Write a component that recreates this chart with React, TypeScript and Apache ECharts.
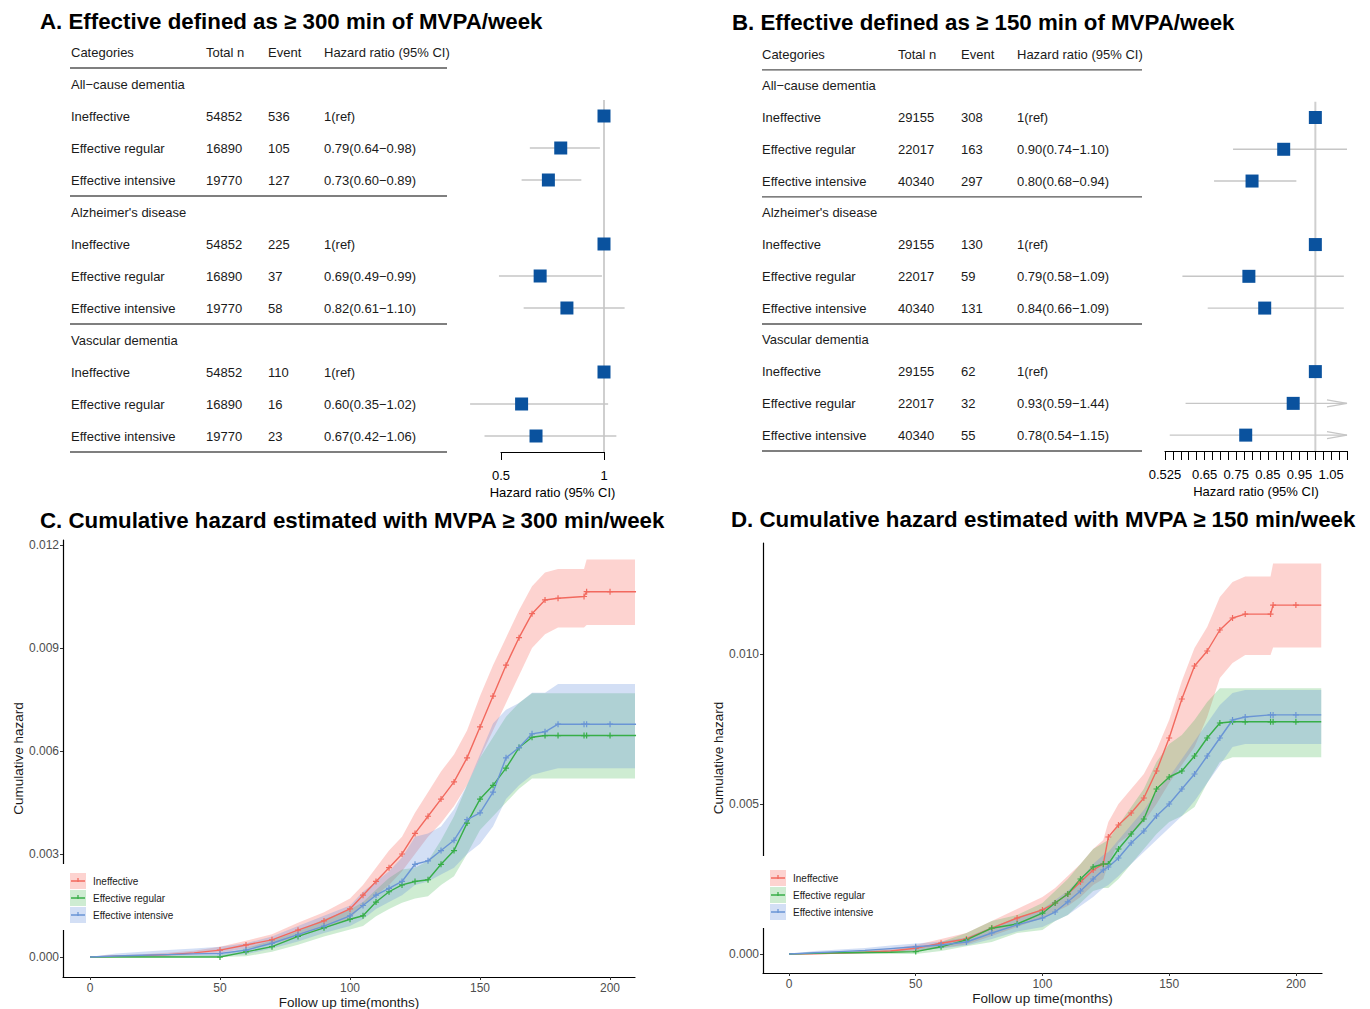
import React, { useEffect, useRef } from "react";
import * as echarts from "echarts";

const FONT = '"Liberation Sans", Arial, sans-serif';

// ---------------- Forest plot tables ----------------
const HEADERS = ["Categories", "Total n", "Event", "Hazard ratio (95% CI)"];
const OUTCOMES = ["All\u2212cause dementia", "Alzheimer's disease", "Vascular dementia"];
const GROUPS = ["Ineffective", "Effective regular", "Effective intensive"];

const A_TOTAL = [54852, 16890, 19770];
const A_EVENTS = [[536, 105, 127], [225, 37, 58], [110, 16, 23]];
const A_HR = [[1, 0.79, 0.73], [1, 0.69, 0.82], [1, 0.6, 0.67]];
const A_LO = [[1, 0.64, 0.6], [1, 0.49, 0.61], [1, 0.35, 0.42]];
const A_HI = [[1, 0.98, 0.89], [1, 0.99, 1.1], [1, 1.02, 1.06]];

const B_TOTAL = [29155, 22017, 40340];
const B_EVENTS = [[308, 163, 297], [130, 59, 131], [62, 32, 55]];
const B_HR = [[1, 0.9, 0.8], [1, 0.79, 0.84], [1, 0.93, 0.78]];
const B_LO = [[1, 0.74, 0.68], [1, 0.58, 0.66], [1, 0.59, 0.54]];
const B_HI = [[1, 1.1, 0.94], [1, 1.09, 1.09], [1, 1.44, 1.15]];

const A_TICKS = [0.5, 1];
const B_TICK_LABELS = [0.525, 0.65, 0.75, 0.85, 0.95, 1.05];
const B_TICKS = [0.525, 0.55, 0.575, 0.6, 0.625, 0.65, 0.675, 0.7, 0.725, 0.75, 0.775, 0.8, 0.825, 0.85, 0.875, 0.9, 0.925, 0.95, 0.975, 1.0, 1.025, 1.05, 1.075, 1.1];

// ---------------- Cumulative hazard curves ----------------
const C_T = [0, 10, 20, 30, 40, 50, 60, 70, 80, 90, 100, 105, 110, 115, 120, 125, 130, 135, 140, 145, 150, 155, 160, 165, 170, 175, 180, 190, 191, 200, 210];
const C_RED = [0, 0.00002, 0.00004, 0.00007, 0.00012, 0.0002, 0.00035, 0.0005, 0.00078, 0.00105, 0.0014, 0.0018, 0.0022, 0.0026, 0.003, 0.0036, 0.0041, 0.0046, 0.0051, 0.0058, 0.0067, 0.0076, 0.0085, 0.0093, 0.01, 0.0104, 0.01045, 0.0105, 0.01064, 0.01064, 0.01064];
const C_RED_HI = [0, 0.00005, 0.00008, 0.00012, 0.00018, 0.0003, 0.00047, 0.00066, 0.001, 0.0013, 0.0017, 0.0021, 0.0026, 0.0031, 0.0035, 0.0042, 0.0048, 0.0054, 0.0059, 0.0066, 0.0076, 0.0085, 0.0093, 0.0101, 0.0108, 0.0112, 0.0113, 0.0113, 0.01158, 0.01158, 0.01158];
const C_RED_LO = [0, 0, 0.00001, 0.00003, 0.00007, 0.00012, 0.00025, 0.00037, 0.0006, 0.00085, 0.00113, 0.0015, 0.0018, 0.0021, 0.0025, 0.003, 0.0035, 0.0039, 0.0044, 0.005, 0.0058, 0.0066, 0.0074, 0.0082, 0.009, 0.0094, 0.0096, 0.0096, 0.00967, 0.00967, 0.00967];
const C_GRN = [0, 0, 0, 0, 0, 0, 0.00015, 0.0003, 0.0006, 0.00085, 0.0011, 0.0012, 0.0016, 0.0019, 0.0021, 0.0022, 0.00225, 0.0027, 0.0031, 0.0039, 0.0046, 0.005, 0.0055, 0.0061, 0.0064, 0.00645, 0.00645, 0.00645, 0.00645, 0.00645, 0.00645];
const C_GRN_HI = [0, 0.00002, 0.00003, 0.00004, 0.00005, 0.00006, 0.00026, 0.00048, 0.00075, 0.0011, 0.00138, 0.0016, 0.00196, 0.0023, 0.00255, 0.0026, 0.0028, 0.0034, 0.0041, 0.005, 0.0058, 0.0064, 0.007, 0.0074, 0.00768, 0.00768, 0.00768, 0.00768, 0.00768, 0.00768, 0.00768];
const C_GRN_LO = [0, 0, 0, 0, 0, 0, 0.00002, 0.00015, 0.00036, 0.0006, 0.0008, 0.0009, 0.00119, 0.0014, 0.00158, 0.0017, 0.00177, 0.0021, 0.00235, 0.003, 0.0037, 0.0041, 0.0045, 0.0049, 0.0052, 0.0052, 0.0052, 0.0052, 0.0052, 0.0052, 0.0052];
const C_BLU = [0, 0.00003, 0.00005, 0.00007, 0.00009, 0.0001, 0.0002, 0.0004, 0.00065, 0.0009, 0.0012, 0.0015, 0.0018, 0.002, 0.0022, 0.0027, 0.0028, 0.0031, 0.0034, 0.004, 0.0042, 0.0048, 0.0058, 0.0061, 0.0065, 0.00656, 0.00678, 0.00678, 0.00678, 0.00678, 0.00678];
const C_BLU_HI = [0, 0.0001, 0.00015, 0.0002, 0.00025, 0.0003, 0.0004, 0.0006, 0.0009, 0.0012, 0.0015, 0.0019, 0.0022, 0.0025, 0.0029, 0.0035, 0.0036, 0.0038, 0.0043, 0.005, 0.0059, 0.0068, 0.0072, 0.0074, 0.0077, 0.0077, 0.00795, 0.00795, 0.00795, 0.00795, 0.00795];
const C_BLU_LO = [0, 0, 0, 0, 0.00002, 0.00003, 0.00008, 0.00025, 0.00045, 0.0007, 0.0009, 0.0011, 0.0014, 0.0016, 0.0018, 0.0021, 0.0022, 0.0024, 0.0026, 0.003, 0.0033, 0.0038, 0.0046, 0.005, 0.0053, 0.0054, 0.0055, 0.0055, 0.0055, 0.0055, 0.0055];

const D_T = [0, 10, 20, 30, 40, 50, 60, 70, 80, 90, 100, 105, 110, 115, 120, 124, 126, 130, 135, 140, 145, 150, 155, 160, 165, 170, 175, 180, 190, 191, 200, 210];
const D_RED = [0, 0.00001, 0.00003, 0.00006, 0.0001, 0.00019, 0.00036, 0.0005, 0.00086, 0.0012, 0.00147, 0.0017, 0.002, 0.0024, 0.0028, 0.003, 0.0039, 0.0043, 0.0047, 0.0052, 0.0061, 0.0072, 0.0085, 0.0096, 0.0101, 0.0108, 0.0112, 0.01133, 0.01133, 0.01163, 0.01163, 0.01163];
const D_RED_HI = [0, 0.00004, 0.00008, 0.00012, 0.00018, 0.0003, 0.0005, 0.0007, 0.0011, 0.0015, 0.0019, 0.0022, 0.0026, 0.003, 0.0035, 0.0038, 0.0044, 0.005, 0.0055, 0.006, 0.0068, 0.0078, 0.0091, 0.0102, 0.0109, 0.0119, 0.0124, 0.01258, 0.01258, 0.01302, 0.01302, 0.01302];
const D_RED_LO = [0, 0, 0.00001, 0.00002, 0.00005, 0.0001, 0.0002, 0.00032, 0.0006, 0.0009, 0.0012, 0.0014, 0.0016, 0.0019, 0.0023, 0.0025, 0.003, 0.0037, 0.004, 0.0044, 0.005, 0.0057, 0.0063, 0.0069, 0.0079, 0.0092, 0.0097, 0.00997, 0.00997, 0.01022, 0.01022, 0.01022];
const D_GRN = [0, 0.00002, 0.00004, 0.00005, 0.00006, 0.00008, 0.00024, 0.00047, 0.00086, 0.001, 0.00136, 0.0017, 0.002, 0.0025, 0.0029, 0.003, 0.003, 0.0035, 0.004, 0.0045, 0.0055, 0.0059, 0.0061, 0.0066, 0.0072, 0.0077, 0.00774, 0.00774, 0.00774, 0.00774, 0.00774, 0.00774];
const D_GRN_HI = [0, 0.00005, 0.00008, 0.0001, 0.00012, 0.00015, 0.0004, 0.0007, 0.0011, 0.0013, 0.0017, 0.0021, 0.0025, 0.003, 0.0035, 0.0037, 0.0038, 0.0043, 0.0049, 0.0055, 0.0064, 0.007, 0.0073, 0.0078, 0.0084, 0.00886, 0.00886, 0.00886, 0.00886, 0.00886, 0.00886, 0.00886];
const D_GRN_LO = [0, 0, 0, 0, 0, 0, 0.0001, 0.00026, 0.0004, 0.0007, 0.0008, 0.0011, 0.0013, 0.0017, 0.0021, 0.0022, 0.0022, 0.0025, 0.003, 0.0035, 0.004, 0.0044, 0.0046, 0.0049, 0.0057, 0.0064, 0.00656, 0.00656, 0.00656, 0.00656, 0.00656, 0.00656];
const D_BLU = [0, 0.00004, 0.00008, 0.00012, 0.00018, 0.00024, 0.0003, 0.0004, 0.0007, 0.00097, 0.0012, 0.0014, 0.00174, 0.0021, 0.0025, 0.0028, 0.0029, 0.0032, 0.0037, 0.0041, 0.0046, 0.005, 0.0055, 0.006, 0.0066, 0.0072, 0.0078, 0.0079, 0.00797, 0.00797, 0.00797, 0.00797];
const D_BLU_HI = [0, 0.0001, 0.00015, 0.0002, 0.00028, 0.00035, 0.00042, 0.00055, 0.0009, 0.0012, 0.0015, 0.0018, 0.0021, 0.0025, 0.003, 0.0033, 0.0034, 0.0038, 0.0043, 0.0048, 0.0054, 0.0059, 0.0065, 0.0071, 0.0077, 0.0083, 0.0087, 0.0088, 0.0088, 0.0088, 0.0088, 0.0088];
const D_BLU_LO = [0, 0, 0.00001, 0.00003, 0.00008, 0.00012, 0.00018, 0.00028, 0.0005, 0.00075, 0.0009, 0.0011, 0.0013, 0.0016, 0.0019, 0.0022, 0.0023, 0.0026, 0.003, 0.0034, 0.0038, 0.0042, 0.0046, 0.0051, 0.0057, 0.0063, 0.0069, 0.007, 0.007, 0.007, 0.007, 0.007];

const C_YTICKS = [0, 0.003, 0.006, 0.009, 0.012];
const D_YTICKS = [0, 0.005, 0.01];
const KM_XTICKS = [0, 50, 100, 150, 200];

const TITLES = [
  "A. Effective defined as \u2265 300 min of MVPA/week",
  "B. Effective defined as \u2265 150 min of MVPA/week",
  "C. Cumulative hazard estimated with MVPA \u2265 300 min/week",
  "D. Cumulative hazard estimated with MVPA \u2265 150 min/week",
];

// ---------------- styles ----------------
const KM_COLORS = ["#F2695E", "#37AE47", "#6A95D5"];
const KM_FILLS = ["rgba(248,118,109,0.32)", "rgba(60,180,75,0.25)", "rgba(97,140,220,0.28)"];
const SQUARE = "#0A529E";
const CI_GREY = "#c6c6c6";
const PLUS = "path://M2,0h1v2h2v1h-2v2h-1v-2h-2v-1h2z";

function fmtCI(hr: number, lo: number, hi: number) {
  if (hr === 1 && lo === 1 && hi === 1) return "1(ref)";
  return `${hr.toFixed(2)}(${lo.toFixed(2)}\u2212${hi.toFixed(2)})`;
}

function buildTable(total: number[], events: number[][], hr: number[][], lo: number[][], hi: number[][]) {
  const rows: { row: number; cells: string[] }[] = [{ row: 0, cells: HEADERS }];
  const forest: number[][] = [];
  const rules: number[] = [0.5];
  let r = 1;
  OUTCOMES.forEach((o, oi) => {
    rows.push({ row: r, cells: [o] });
    r++;
    GROUPS.forEach((g, gi) => {
      rows.push({
        row: r,
        cells: [g, String(total[gi]), String(events[oi][gi]), fmtCI(hr[oi][gi], lo[oi][gi], hi[oi][gi])],
      });
      forest.push([hr[oi][gi], r, lo[oi][gi], hi[oi][gi]]);
      r++;
    });
    rules.push(r - 0.5);
  });
  return { rows, forest, rules };
}

function tableSeries(ax: number, xref: number, t: ReturnType<typeof buildTable>, colX: number[], lineX: [number, number]) {
  return [
    {
      type: "custom",
      xAxisIndex: ax,
      yAxisIndex: ax,
      clip: false,
      silent: true,
      z: 5,
      data: t.rows.map((r) => [xref, r.row]),
      renderItem: (params: any, api: any) => {
        const y = api.coord([xref, api.value(1)])[1];
        const cells = t.rows[params.dataIndex].cells;
        return {
          type: "group",
          children: cells.map((c, i) => ({
            type: "text",
            x: colX[i],
            y,
            style: { text: c, fill: "#1a1a1a", fontSize: 13, fontFamily: FONT, verticalAlign: "middle", align: "left" },
          })),
        };
      },
    },
    {
      type: "custom",
      xAxisIndex: ax,
      yAxisIndex: ax,
      clip: false,
      silent: true,
      z: 5,
      data: t.rules.map((r) => [xref, r]),
      renderItem: (params: any, api: any) => {
        const y = api.coord([xref, api.value(1)])[1];
        return {
          type: "line",
          shape: { x1: lineX[0], y1: y, x2: lineX[1], y2: y },
          style: { stroke: "#555", lineWidth: 1.4 },
        };
      },
    },
  ];
}

function forestSeries(ax: number, t: ReturnType<typeof buildTable>, lim: [number, number]) {
  return [
    {
      type: "line",
      xAxisIndex: ax,
      yAxisIndex: ax,
      data: [[1, 1.5], [1, 12.5]],
      symbol: "none",
      silent: true,
      z: 3,
      lineStyle: { color: "#cfcfcf", width: 2 },
    },
    {
      type: "custom",
      xAxisIndex: ax,
      yAxisIndex: ax,
      clip: false,
      silent: true,
      z: 6,
      data: t.forest,
      renderItem: (params: any, api: any) => {
        const hr = api.value(0);
        const r = api.value(1);
        const lo = api.value(2);
        const hi = api.value(3);
        const c = api.coord([hr, r]);
        const children: any[] = [];
        if (hi > lo) {
          const p0 = api.coord([Math.max(lo, lim[0]), r]);
          const p1 = api.coord([Math.min(hi, lim[1]), r]);
          children.push({
            type: "line",
            shape: { x1: p0[0], y1: p0[1], x2: p1[0], y2: p1[1] },
            style: { stroke: CI_GREY, lineWidth: 1.4 },
          });
          if (hi > lim[1]) {
            children.push({
              type: "polyline",
              shape: { points: [[p1[0] - 20, p1[1] - 3.5], [p1[0], p1[1]], [p1[0] - 20, p1[1] + 3.5]] },
              style: { stroke: CI_GREY, lineWidth: 1.2, fill: "none" },
            });
          }
        }
        children.push({
          type: "rect",
          shape: { x: c[0] - 6.5, y: c[1] - 6.5, width: 13, height: 13 },
          style: { fill: SQUARE },
        });
        return { type: "group", children };
      },
    },
  ];
}

function kmSeries(ax: number, t: number[], groups: { est: number[]; lo: number[]; hi: number[] }[]) {
  const out: any[] = [];
  groups.forEach((g, k) => {
    out.push({
      type: "custom",
      xAxisIndex: ax,
      yAxisIndex: ax,
      silent: true,
      clip: true,
      z: 2,
      data: t.map((x, i) => [x, g.lo[i], g.hi[i]]),
      renderItem: (params: any, api: any) => {
        if (params.dataIndex !== 0) return null;
        const pts: number[][] = [];
        for (let i = 0; i < t.length; i++) pts.push(api.coord([t[i], g.hi[i]]));
        for (let i = t.length - 1; i >= 0; i--) pts.push(api.coord([t[i], g.lo[i]]));
        return { type: "polygon", shape: { points: pts }, style: { fill: KM_FILLS[k] } };
      },
    });
  });
  groups.forEach((g, k) => {
    out.push({
      type: "line",
      xAxisIndex: ax,
      yAxisIndex: ax,
      silent: true,
      z: 4,
      symbol: PLUS,
      showAllSymbol: true,
      symbolSize: (v: number[]) => (v[0] >= 45 && v[0] < 205 ? 6 : 0),
      itemStyle: { color: KM_COLORS[k] },
      lineStyle: { color: KM_COLORS[k], width: 1.4 },
      data: t.map((x, i) => [x, g.est[i]]),
    });
  });
  return out;
}

function kmAxes(ax: number, xmin: number, xmax: number, ymin: number, ymax: number, yticks: number[]) {
  const x = {
    type: "value",
    gridIndex: ax,
    min: xmin,
    max: xmax,
    splitLine: { show: false },
    axisLine: { onZero: false, lineStyle: { color: "#000", width: 1.2 } },
    axisTick: { length: 3, lineStyle: { color: "#333" }, customValues: KM_XTICKS },
    axisLabel: { customValues: KM_XTICKS, color: "#4d4d4d", fontSize: 12, fontFamily: FONT, margin: 5 },
    name: "Follow up time(months)",
    nameLocation: "middle",
    nameGap: 18,
    nameTextStyle: { color: "#1a1a1a", fontSize: 13.5, fontFamily: FONT },
  };
  const y = {
    type: "value",
    gridIndex: ax,
    min: ymin,
    max: ymax,
    splitLine: { show: false },
    axisLine: { show: true, onZero: false, lineStyle: { color: "#000", width: 1.2 } },
    axisTick: { show: true, length: 3, lineStyle: { color: "#333" }, customValues: yticks },
    axisLabel: {
      customValues: yticks,
      color: "#4d4d4d",
      fontSize: 12,
      fontFamily: FONT,
      margin: 4,
      formatter: (v: number) => v.toFixed(3),
    },
    name: "Cumulative hazard",
    nameLocation: "middle",
    nameGap: 38,
    nameTextStyle: { color: "#1a1a1a", fontSize: 13.5, fontFamily: FONT },
  };
  return { x, y };
}

function legendGraphic(x0: number, y0: number, cover: { x: number; y: number; width: number; height: number }) {
  const els: any[] = [{ type: "rect", shape: cover, style: { fill: "#fff" }, z: 90, silent: true }];
  GROUPS.forEach((g, k) => {
    const cy = y0 + k * 17;
    els.push({ type: "rect", shape: { x: x0, y: cy - 8, width: 16, height: 16 }, style: { fill: KM_FILLS[k] }, z: 100 });
    els.push({ type: "line", shape: { x1: x0 + 1, y1: cy, x2: x0 + 15, y2: cy }, style: { stroke: KM_COLORS[k], lineWidth: 1.5 }, z: 101 });
    els.push({ type: "line", shape: { x1: x0 + 8, y1: cy - 3, x2: x0 + 8, y2: cy + 1 }, style: { stroke: KM_COLORS[k], lineWidth: 1.3 }, z: 101 });
    els.push({
      type: "text",
      x: x0 + 23,
      y: cy,
      style: { text: g, fontSize: 10, fontFamily: FONT, fill: "#1a1a1a", verticalAlign: "middle" },
      z: 101,
    });
  });
  return els;
}

export default function App() {
  const ref = useRef<HTMLDivElement>(null);
  useEffect(() => {
    if (!ref.current) return;
    const chart = echarts.init(ref.current, null, { renderer: "svg" });
    const tA = buildTable(A_TOTAL, A_EVENTS, A_HR, A_LO, A_HI);
    const tB = buildTable(B_TOTAL, B_EVENTS, B_HR, B_LO, B_HI);
    const kmC = kmAxes(2, -10.38, 209.6, -0.000583, 0.012146, C_YTICKS);
    const kmD = kmAxes(3, -10.26, 210.3, -0.000633, 0.0137, D_YTICKS);

    const forestX = (gi: number, min: number, max: number, ticks: number[], labels: number[], tickLen: number) => ({
      type: "value",
      gridIndex: gi,
      min,
      max,
      position: "bottom",
      splitLine: { show: false },
      axisLine: { onZero: false, lineStyle: { color: "#000", width: 1.2 } },
      axisTick: { length: tickLen, lineStyle: { color: "#000", width: 1 }, customValues: ticks },
      axisLabel: { customValues: labels, color: "#000", fontSize: 13, fontFamily: FONT, margin: 17, formatter: (v: number) => String(v) },
      name: "Hazard ratio (95% CI)",
      nameLocation: "middle",
      nameGap: 34,
      nameTextStyle: { color: "#000", fontSize: 13, fontFamily: FONT },
    });
    const hiddenY = (gi: number) => ({ type: "value", gridIndex: gi, inverse: true, min: 0, max: 12.5, show: false });

    const titleEl = (text: string, x: number, y: number) => ({
      type: "text",
      x,
      y,
      z: 100,
      style: { text, fontSize: 22.3, fontWeight: "bold", fontFamily: FONT, fill: "#000", verticalAlign: "middle" },
    });

    chart.setOption({
      animation: false,
      backgroundColor: "#fff",
      textStyle: { fontFamily: FONT },
      grid: [
        { left: 501, top: 52, width: 103, height: 400, containLabel: false, outerBoundsMode: "none" },
        { left: 1165, top: 54, width: 182, height: 397, containLabel: false, outerBoundsMode: "none" },
        { left: 63, top: 540, width: 572, height: 437, containLabel: false, outerBoundsMode: "none" },
        { left: 763, top: 543, width: 559, height: 430, containLabel: false, outerBoundsMode: "none" },
      ],
      xAxis: [
        forestX(0, 0.5, 1, A_TICKS, A_TICKS, 8),
        forestX(1, 0.525, 1.1, B_TICKS, B_TICK_LABELS, 9),
        kmC.x,
        kmD.x,
      ],
      yAxis: [hiddenY(0), hiddenY(1), kmC.y, kmD.y],
      series: [
        ...tableSeries(0, 0.5, tA, [71, 206, 268, 324], [70, 447]),
        ...tableSeries(1, 0.525, tB, [762, 898, 961, 1017], [762, 1142]),
        ...forestSeries(0, tA, [0.3, 1.2]),
        ...forestSeries(1, tB, [0.525, 1.1]),
        ...kmSeries(2, C_T, [
          { est: C_RED, lo: C_RED_LO, hi: C_RED_HI },
          { est: C_GRN, lo: C_GRN_LO, hi: C_GRN_HI },
          { est: C_BLU, lo: C_BLU_LO, hi: C_BLU_HI },
        ]),
        ...kmSeries(3, D_T, [
          { est: D_RED, lo: D_RED_LO, hi: D_RED_HI },
          { est: D_GRN, lo: D_GRN_LO, hi: D_GRN_HI },
          { est: D_BLU, lo: D_BLU_LO, hi: D_BLU_HI },
        ]),
      ],
      graphic: [
        titleEl(TITLES[0], 40, 21),
        titleEl(TITLES[1], 732, 22),
        titleEl(TITLES[2], 40, 520),
        titleEl(TITLES[3], 731, 519),
        ...legendGraphic(70, 881, { x: 57, y: 864, width: 125, height: 66 }),
        ...legendGraphic(770, 878, { x: 757, y: 856, width: 125, height: 72 }),
      ],
    });
    return () => chart.dispose();
  }, []);
  return (
    <div
      ref={ref}
      style={{ position: "absolute", left: 0, top: 0, width: 1370, height: 1009, background: "#fff" }}
    />
  );
}
